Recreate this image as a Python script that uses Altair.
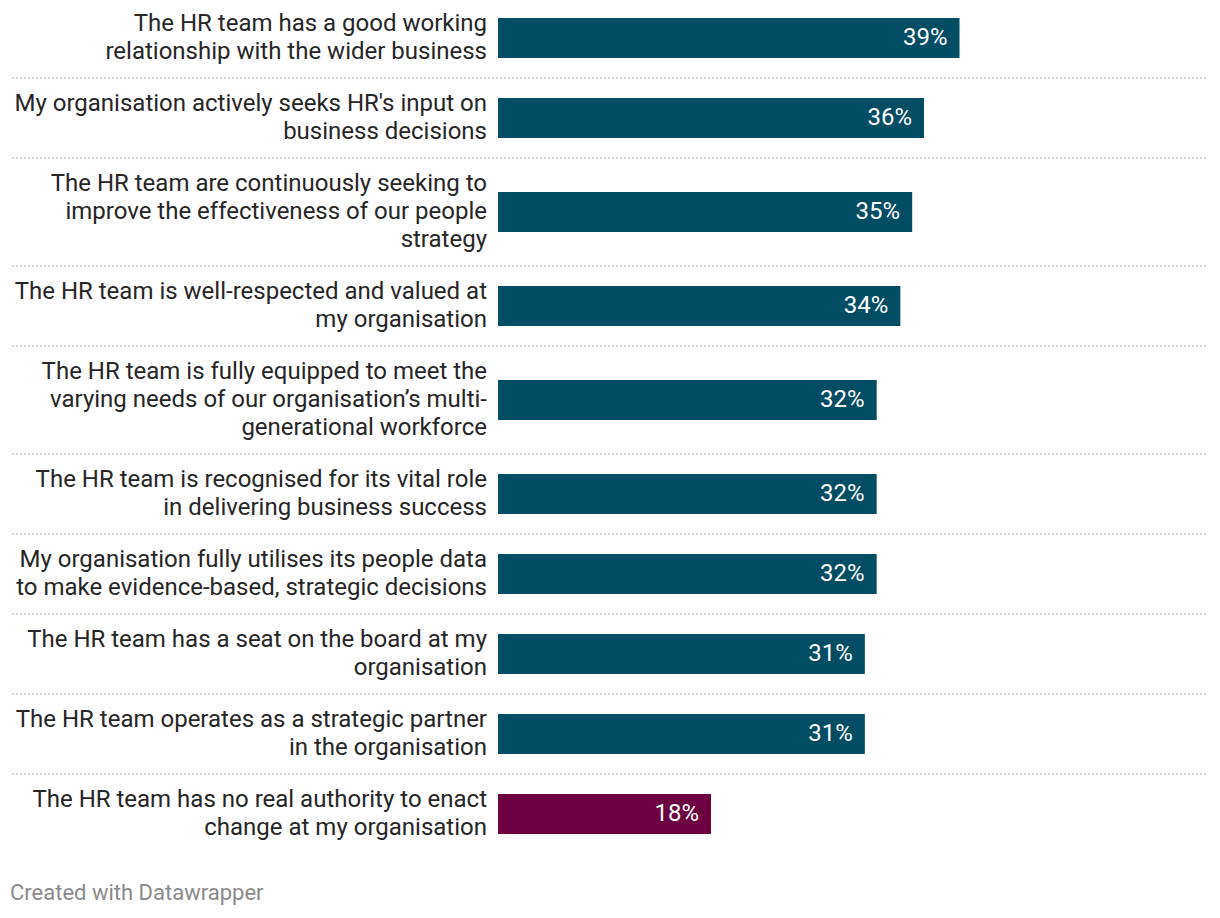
import altair as alt
import pandas as pd

labels = [
    "The HR team has a good working\nrelationship with the wider business",
    "My organisation actively seeks HR's input on\nbusiness decisions",
    "The HR team are continuously seeking to\nimprove the effectiveness of our people\nstrategy",
    "The HR team is well-respected and valued at\nmy organisation",
    "The HR team is fully equipped to meet the\nvarying needs of our organisation\u2019s multi-\ngenerational workforce",
    "The HR team is recognised for its vital role\nin delivering business success",
    "My organisation fully utilises its people data\nto make evidence-based, strategic decisions",
    "The HR team has a seat on the board at my\norganisation",
    "The HR team operates as a strategic partner\nin the organisation",
    "The HR team has no real authority to enact\nchange at my organisation",
]
values = [39, 36, 35, 34, 32, 32, 32, 31, 31, 18]
groups = ["positive"] * 9 + ["negative"]

LINE_H = 28
ROW_PAD = 24
FONT = "Roboto"
FS = 24

df = pd.DataFrame({"label": labels, "value": values, "group": groups})
df["lines"] = df["label"].str.count("\n") + 1
df["h"] = df["lines"] * LINE_H + ROW_PAD
df["end"] = df["h"].cumsum()
df["start"] = df["end"] - df["h"]
df["mid"] = df["start"] + df["h"] / 2
df["top"] = df["mid"] - 20
df["bot"] = df["mid"] + 20
df["label_y"] = df["mid"] - (df["lines"] - 1) * LINE_H / 2
df["zero"] = 0
df["txt"] = df["value"].astype(str) + "%"
df["last"] = [False] * 9 + [True]

H = 852
yscale = alt.Scale(domain=[10, 10 + H], reverse=True)
xscale = alt.Scale(domain=[0, 60])

bars = alt.Chart(df).mark_rect().encode(
    x=alt.X("zero:Q", scale=xscale, axis=None),
    x2="value:Q",
    y=alt.Y("top:Q", scale=yscale, axis=None),
    y2="bot:Q",
    color=alt.Color(
        "group:N",
        scale=alt.Scale(domain=["positive", "negative"], range=["#014d64", "#6c0040"]),
        legend=None,
    ),
)

vals = alt.Chart(df).mark_text(
    align="right", baseline="middle", dx=-12, color="white", font=FONT, fontSize=FS
).encode(
    x=alt.X("value:Q", scale=xscale, axis=None),
    y=alt.Y("mid:Q", scale=yscale, axis=None),
    text="txt:N",
)

labs = alt.Chart(df).mark_text(
    align="right", baseline="middle", dx=-11, color="#262626", font=FONT,
    fontSize=FS, lineBreak="\n", lineHeight=LINE_H,
).encode(
    x=alt.X("zero:Q", scale=xscale, axis=None),
    y=alt.Y("label_y:Q", scale=yscale, axis=None),
    text="label:N",
)

seps = alt.Chart(df[~df["last"]]).mark_rule(
    color="#d4d4d4", strokeWidth=2, strokeDash=[2, 2]
).encode(
    x=alt.value(-486),
    x2=alt.value(710),
    y=alt.Y("end:Q", scale=yscale, axis=None),
)

chart = alt.layer(seps, bars, vals, labs).properties(
    width=710,
    height=H,
    autosize=alt.AutoSizeParams(type="none"),
    padding={"left": 490, "top": 0, "right": 4, "bottom": 50},
    title=alt.TitleParams(
        "Created with Datawrapper",
        orient="bottom",
        anchor="start",
        frame="group",
        align="left",
        dx=-488,
        offset=23,
        font=FONT,
        fontSize=22,
        fontWeight="normal",
        color="#8a8a8a",
    ),
).configure_view(stroke=None)

chart.save("out.html", embed_options={"renderer": "svg", "actions": False})
